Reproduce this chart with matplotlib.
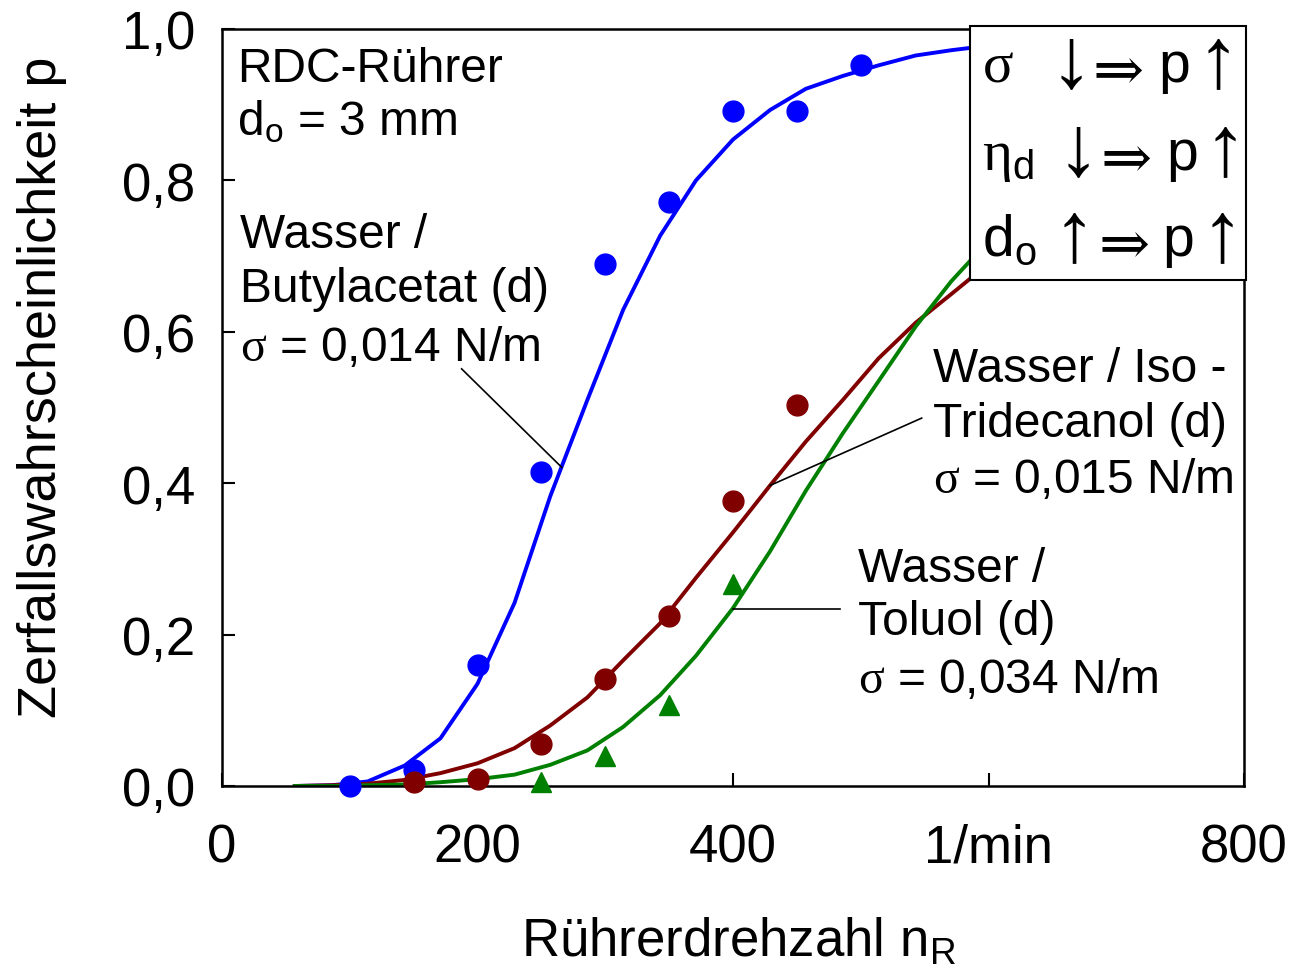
import matplotlib
matplotlib.use('Agg')
import matplotlib.pyplot as plt
from matplotlib.patches import Rectangle

plt.rcParams['font.family'] = ['Liberation Sans', 'DejaVu Sans']
plt.rcParams['mathtext.fontset'] = 'custom'
plt.rcParams['mathtext.rm'] = 'Liberation Sans'
plt.rcParams['mathtext.it'] = 'Liberation Sans:italic'
# \mathbf is only used for the serif greek letters (sigma, eta)
plt.rcParams['mathtext.bf'] = 'Liberation Serif'

W, H = 1294, 970

# fitted curves
n_fit = [57, 86, 114, 143, 171, 200, 229, 257, 286, 314, 343, 371, 400, 429,
         457, 486, 514, 543, 571, 600, 629, 657, 686, 714, 743, 771, 800]
p_fit_butyl = [0.0, 0.001, 0.006, 0.027, 0.063, 0.135, 0.242, 0.383, 0.51, 0.629,
               0.727, 0.80, 0.854, 0.893, 0.921, 0.938, 0.952, 0.965, 0.972, 0.978,
               0.983, 0.987, 0.99, 0.992, 0.994, 0.996, 0.998]
p_fit_iso = [0.0, 0.001, 0.003, 0.008, 0.017, 0.03, 0.05, 0.08, 0.117, 0.166,
             0.215, 0.275, 0.335, 0.397, 0.455, 0.51, 0.565, 0.612, 0.65, 0.69,
             0.72, 0.755, 0.785, 0.81, 0.83, 0.845, 0.855]
p_fit_tol = [0.0, 0.0, 0.001, 0.002, 0.005, 0.009, 0.015, 0.028, 0.047, 0.078,
             0.12, 0.172, 0.235, 0.31, 0.39, 0.466, 0.535, 0.607, 0.667, 0.72,
             0.77, 0.81, 0.845, 0.872, 0.893, 0.907, 0.916]

# measured points
n_butyl = [100, 150, 200, 250, 300, 350, 400, 450, 500]
p_butyl = [0.0, 0.021, 0.16, 0.415, 0.69, 0.772, 0.892, 0.892, 0.952]
n_iso = [150, 200, 250, 300, 350, 400, 450]
p_iso = [0.005, 0.009, 0.055, 0.141, 0.224, 0.377, 0.503]
n_tol = [250, 300, 350, 400]
p_tol = [0.005, 0.04, 0.107, 0.267]

x_ticks = [0, 200, 400, 600, 800]
x_ticklabels = ['0', '200', '400', '1/min', '800']
y_ticks = [0.0, 0.2, 0.4, 0.6, 0.8, 1.0]
y_ticklabels = ['0,0', '0,2', '0,4', '0,6', '0,8', '1,0']

# leader lines from label to curve: (n1, p1, n2, p2)
leaders = [(187.6, 0.551, 265.9, 0.421),
           (547.7, 0.486, 429.0, 0.397),
           (483.8, 0.234, 400.3, 0.234)]

blue, red, green = '#0000ff', '#800000', '#008000'


def fpos(x, y):
    # pixel position in the 1294x970 picture -> figure fraction
    return x / W, 1 - y / H


fig = plt.figure(figsize=(W / 100, H / 100), dpi=100)
ax = fig.add_axes([222 / W, 1 - 787 / H, 1022 / W, 757 / H])

ax.plot(n_fit, p_fit_butyl, color=blue, lw=2.8, zorder=2)
ax.plot(n_fit, p_fit_iso, color=red, lw=2.8, zorder=2)
ax.plot(n_fit, p_fit_tol, color=green, lw=2.8, zorder=2)
ax.plot(n_butyl, p_butyl, 'o', color=blue, ms=15, zorder=3, clip_on=False)
ax.plot(n_iso, p_iso, 'o', color=red, ms=15, zorder=3, clip_on=False)
ax.plot(n_tol, p_tol, '^', color=green, ms=15, zorder=3, clip_on=False)

for n1, p1, n2, p2 in leaders:
    ax.plot([n1, n2], [p1, p2], color='black', lw=1.2, zorder=2)

ax.set_xlim(0, 800)
ax.set_ylim(0, 1)
ax.set_xticks(x_ticks)
ax.set_xticklabels(x_ticklabels)
ax.set_yticks(y_ticks)
ax.set_yticklabels(y_ticklabels)
ax.tick_params(direction='in', length=9.5, width=1.5, labelsize=38)
ax.tick_params(axis='x', pad=26)
ax.tick_params(axis='y', pad=19.5)
for s in ax.spines.values():
    s.set_linewidth(1.8)

ax.set_xlabel(r'Rührerdrehzahl n$_\mathrm{R}$', fontsize=38)
ax.xaxis.set_label_coords(0.505, -(916 - 787) / 757)
ax.set_ylabel('Zerfallswahrscheinlichkeit p', fontsize=39)
ax.yaxis.set_label_coords((67 - 222) / 1022, (787 - 387) / 757)

# annotation texts
fs = 34.5
notes = [
    (237, 82, 'RDC-Rührer'),
    (237, 135, r'd$_\mathrm{o}$ = 3 mm'),
    (240, 248, 'Wasser /'),
    (240, 302, 'Butylacetat (d)'),
    (240, 361, r'$\mathbf{\sigma}$ = 0,014 N/m'),
    (933, 382, 'Wasser / Iso -'),
    (933, 437, 'Tridecanol (d)'),
    (933, 493, r'$\mathbf{\sigma}$ = 0,015 N/m'),
    (858, 582, 'Wasser /'),
    (858, 635, 'Toluol (d)'),
    (858, 693, r'$\mathbf{\sigma}$ = 0,034 N/m'),
]
for x, y, s in notes:
    fig.text(*fpos(x, y), s, fontsize=fs, va='baseline', ha='left')

# box with the trends
ax.add_patch(Rectangle(((970 - 222) / 1022, (787 - 281) / 757),
                       (1246 - 970) / 1022, (281 - 27) / 757,
                       transform=ax.transAxes, facecolor='white',
                       edgecolor='black', lw=1.5, zorder=5, clip_on=False))

sym = ['Liberation Serif', 'DejaVu Serif']
bs = 41
rows = [
    (82, r'$\mathbf{\sigma}$', 1050, '↓', 1093, 1158, 1197),
    (170, r'$\mathbf{\eta}_\mathrm{d}$', 1057, '↓', 1101, 1166, 1204),
    (256, r'd$_\mathrm{o}$', 1053, '↑', 1098, 1162, 1201),
]
for y, lab, xa, arr, xr, xp, xu in rows:
    fig.text(*fpos(982, y), lab, fontsize=bs, va='baseline', zorder=6)
    fig.text(*fpos(xa, y + 4), arr, fontsize=62, va='baseline', family=sym, zorder=6)
    fig.text(*fpos(xr, y + 8), '⇒', fontsize=44, va='baseline', family=sym, zorder=6)
    fig.text(*fpos(xp, y), 'p', fontsize=bs, va='baseline', zorder=6)
    fig.text(*fpos(xu, y + 4), '↑', fontsize=62, va='baseline', family=sym, zorder=6)

fig.savefig('out.png', dpi=100)
